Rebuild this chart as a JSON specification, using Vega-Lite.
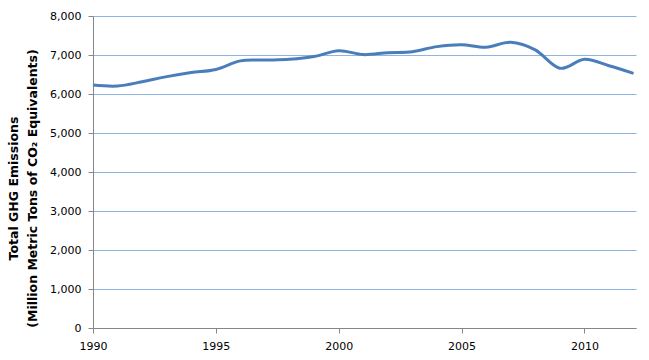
{
  "$schema": "https://vega.github.io/schema/vega-lite/v6.json",
  "width": 543,
  "height": 312,
  "autosize": {"type": "none"},
  "padding": {"left": 93, "top": 16, "right": 13, "bottom": 32},
  "background": "white",
  "config": {"view": {"stroke": null}},
  "data": {"values": [
    {"year": 1990, "value": 6230},
    {"year": 1991, "value": 6205},
    {"year": 1992, "value": 6315},
    {"year": 1993, "value": 6445},
    {"year": 1994, "value": 6550},
    {"year": 1995, "value": 6630},
    {"year": 1996, "value": 6850},
    {"year": 1997, "value": 6870},
    {"year": 1998, "value": 6890},
    {"year": 1999, "value": 6960},
    {"year": 2000, "value": 7110},
    {"year": 2001, "value": 7010},
    {"year": 2002, "value": 7060},
    {"year": 2003, "value": 7085},
    {"year": 2004, "value": 7215},
    {"year": 2005, "value": 7265},
    {"year": 2006, "value": 7200},
    {"year": 2007, "value": 7325},
    {"year": 2008, "value": 7130},
    {"year": 2009, "value": 6660},
    {"year": 2010, "value": 6890},
    {"year": 2011, "value": 6725},
    {"year": 2012, "value": 6530}
  ]},
  "mark": {"type": "line", "interpolate": "cardinal", "color": "#4A7EBB", "strokeWidth": 3},
  "encoding": {
    "x": {
      "field": "year", "type": "quantitative",
      "scale": {"domain": [1990, 2012.1], "nice": false, "zero": false},
      "axis": {
        "values": [1990, 1995, 2000, 2005, 2010],
        "format": "d", "title": null, "grid": false,
        "domainColor": "#868686", "tickColor": "#868686", "tickSize": 5,
        "labelFont": "DejaVu Sans", "labelFontSize": 11, "labelColor": "#000000",
        "labelPadding": 7, "labelFlush": false
      }
    },
    "y": {
      "field": "value", "type": "quantitative",
      "scale": {"domain": [0, 8000], "nice": false},
      "axis": {
        "values": [0, 1000, 2000, 3000, 4000, 5000, 6000, 7000, 8000],
        "format": ",d",
        "title": ["Total GHG Emissions", "(Million Metric Tons of CO₂ Equivalents)"],
        "titleFont": "DejaVu Sans", "titleFontSize": 12.5, "titleFontWeight": "bold",
        "titleColor": "#000000", "titleAngle": -90, "titleX": -86, "titleY": 172,
        "titleAlign": "center", "titleBaseline": "top", "titleLineHeight": 19,
        "grid": true, "gridColor": "#8EB4E3", "gridWidth": 1,
        "domainColor": "#868686", "tickColor": "#868686", "tickSize": 5,
        "labelFont": "DejaVu Sans", "labelFontSize": 11, "labelColor": "#000000",
        "labelPadding": 7
      }
    }
  }
}
